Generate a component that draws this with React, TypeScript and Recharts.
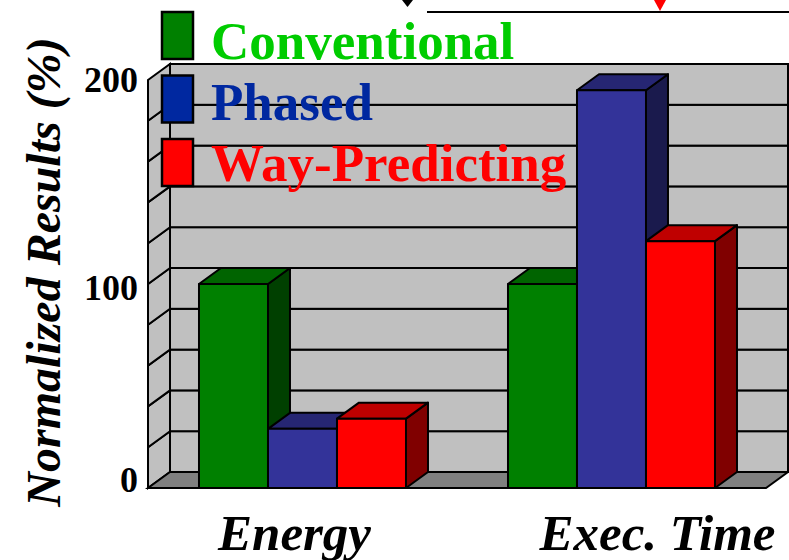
import {
  BarChart,
  Bar,
  XAxis,
  YAxis,
  ReferenceArea,
  Legend,
} from "recharts";

const CATEGORIES = ["Energy", "Exec. Time"];
const CONVENTIONAL = [100, 100];
const PHASED = [29, 195];
const WAY_PREDICTING = [34, 121];

const Y_TICKS = [0, 20, 40, 60, 80, 100, 120, 140, 160, 180, 200];
const Y_LABELS = [0, 100, 200];

// 3D depth of the box (back wall offset)
const DX = 22;
const DY = -16;

const SERIF = "'Liberation Serif', 'Times New Roman', serif";

const SERIES = [
  { key: "conventional", name: "Conventional", front: "#008000", top: "#006400", side: "#004000", text: "#00cc00" },
  { key: "phased", name: "Phased", front: "#333399", top: "#262673", side: "#1a1a4d", text: "#0028a0", swatch: "#0028a0" },
  { key: "way", name: "Way-Predicting", front: "#ff0000", top: "#bf0000", side: "#800000", text: "#ff0000" },
];

const data = CATEGORIES.map((name, i) => ({
  name,
  conventional: CONVENTIONAL[i],
  phased: PHASED[i],
  way: WAY_PREDICTING[i],
}));

// small nudges so the category labels sit where the slide has them
const X_LABEL_SHIFT = [-8, 46];
const Y_LABEL_DY: Record<number, number> = { 0: 4, 100: 16, 200: 12 };

function Box3D(props: any) {
  const { x, y, width, height, fill, top, side } = props;
  if (!height || height <= 0) return null;
  return (
    <g stroke="#000" strokeWidth={2} strokeLinejoin="round">
      <polygon
        points={`${x + width},${y} ${x + width + DX},${y + DY} ${x + width + DX},${y + height + DY} ${x + width},${y + height}`}
        fill={side}
      />
      <polygon
        points={`${x},${y} ${x + DX},${y + DY} ${x + width + DX},${y + DY} ${x + width},${y}`}
        fill={top}
      />
      <rect x={x} y={y} width={width} height={height} fill={fill} />
    </g>
  );
}

function WallBand(props: any) {
  const { x, y, width, height, isFloor } = props;
  return (
    <g stroke="#000" strokeWidth={2}>
      <rect x={x + DX} y={y + DY} width={width} height={height} fill="#c0c0c0" />
      <polygon
        points={`${x},${y} ${x + DX},${y + DY} ${x + DX},${y + height + DY} ${x},${y + height}`}
        fill="#c0c0c0"
      />
      {isFloor && (
        <polygon
          points={`${x},${y + height} ${x + DX},${y + height + DY} ${x + width + DX},${y + height + DY} ${x + width},${y + height}`}
          fill="#808080"
        />
      )}
    </g>
  );
}

function YTick(props: any) {
  const { x, y, payload } = props;
  if (!Y_LABELS.includes(payload.value)) return <g />;
  return (
    <text
      x={x}
      y={y + (Y_LABEL_DY[payload.value] ?? 12)}
      textAnchor="end"
      fontFamily={SERIF}
      fontWeight="bold"
      fontSize={36}
      fill="#000"
    >
      {payload.value}
    </text>
  );
}

function XTick(props: any) {
  const { x, y, payload, index } = props;
  return (
    <text
      x={x + (X_LABEL_SHIFT[index] ?? 0)}
      y={y + 62}
      textAnchor="middle"
      fontFamily={SERIF}
      fontWeight="bold"
      fontStyle="italic"
      fontSize={51}
      fill="#000"
    >
      {payload.value}
    </text>
  );
}

function YTitle() {
  return (
    <text
      x={60}
      y={272}
      transform="rotate(-90 60 272)"
      textAnchor="middle"
      fontFamily={SERIF}
      fontWeight="bold"
      fontStyle="italic"
      fontSize={48}
      fill="#000"
    >
      Normalized Results (%)
    </text>
  );
}

function renderLegend(props: any) {
  const { payload } = props;
  if (!payload) return null;
  return (
    <svg width={440} height={200} style={{ display: "block" }}>
      {payload.map((entry: any, i: number) => {
        const s = SERIES.find((d) => d.name === entry.value) ?? SERIES[i];
        return (
          <g key={`legend-${i}`}>
            <rect
              x={3}
              y={13 + 63.5 * i}
              width={31}
              height={47}
              fill={s.swatch ?? s.front}
              stroke="#000"
              strokeWidth={2.5}
            />
            <text
              x={52}
              y={60 + 61 * i}
              fontFamily={SERIF}
              fontWeight="bold"
              fontSize={53}
              fill={s.text}
            >
              {entry.value}
            </text>
          </g>
        );
      })}
    </svg>
  );
}

export default function App() {
  return (
    <div style={{ position: "absolute", left: 0, top: 0, width: 789, height: 560, background: "#fff" }}>
      <BarChart
        width={789}
        height={560}
        data={data}
        margin={{ top: 80, right: 23, bottom: 12, left: 78 }}
        barGap={0}
        barCategoryGap="16.5%"
      >
        {Y_TICKS.slice(0, -1).map((v, i) => (
          <ReferenceArea
            key={`band-${v}`}
            y1={v}
            y2={Y_TICKS[i + 1]}
            ifOverflow="visible"
            shape={(p: any) => <WallBand {...p} isFloor={i === 0} />}
          />
        ))}
        <XAxis
          dataKey="name"
          axisLine={false}
          tickLine={false}
          tickSize={0}
          tickMargin={0}
          height={60}
          tick={<XTick />}
          interval={0}
        />
        <YAxis
          domain={[0, 200]}
          ticks={Y_TICKS}
          axisLine={false}
          tickLine={false}
          tickSize={0}
          tickMargin={10}
          width={70}
          tick={<YTick />}
          interval={0}
          label={{ content: () => <YTitle /> }}
        />
        {SERIES.map((s) => (
          <Bar
            key={s.key}
            dataKey={s.key}
            name={s.name}
            fill={s.front}
            isAnimationActive={false}
            shape={(p: any) => <Box3D {...p} top={s.top} side={s.side} />}
          />
        ))}
        <Legend
          layout="vertical"
          align="center"
          verticalAlign="middle"
          content={renderLegend}
          wrapperStyle={{ position: "absolute", left: 159, top: -1, width: 440, height: 200 }}
        />
      </BarChart>
      <svg
        width={789}
        height={20}
        style={{ position: "absolute", left: 0, top: 0, pointerEvents: "none" }}
      >
        <polygon points="402,0 413,0 407.5,7" fill="#000" />
        <line x1={427} y1={12} x2={789} y2={12} stroke="#000" strokeWidth={2} />
        <polygon points="654,0 666,0 660,11" fill="#ff0000" />
      </svg>
    </div>
  );
}
